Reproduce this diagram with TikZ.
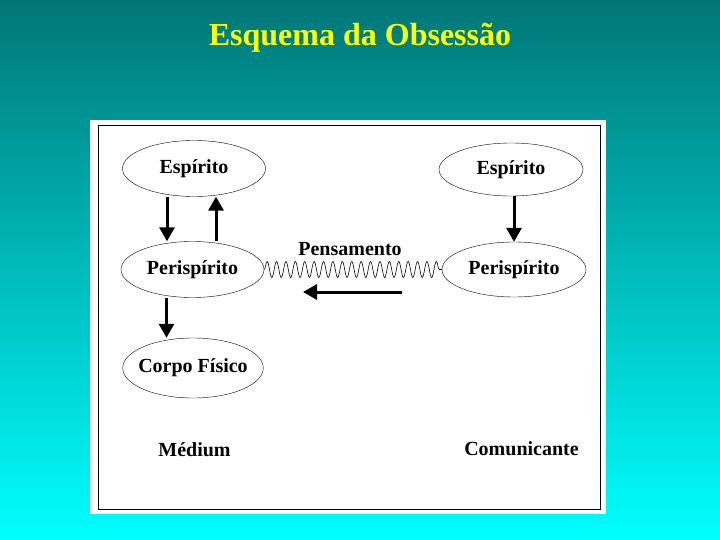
\documentclass[tikz,border=0pt]{standalone}
\usepackage{fontspec}
\setmainfont{Liberation Serif}
\usetikzlibrary{shapes.geometric,arrows.meta,decorations.pathmorphing}
\definecolor{bgtop}{RGB}{0, 118, 118}
\definecolor{bgbottom}{RGB}{0, 255, 255}
\definecolor{titleyellow}{RGB}{255, 255, 0}

\tikzset{
  bubble/.style={draw, ellipse, thin, inner sep=0pt, minimum width=143pt, minimum height=56pt,
    font=\fontsize{20}{24}\selectfont\bfseries},
  tag/.style={font=\fontsize{20}{24}\selectfont\bfseries},
  flow/.style={line width=3pt, -{Triangle[length=14pt,width=15pt]}},
}

\begin{document}
\begin{tikzpicture}[x=1pt,y=-1pt]
% Background
\shade[top color=bgtop, bottom color=bgbottom] (0,0) rectangle (720,540);
\useasboundingbox (0,0) rectangle (720,540);
\node[text=titleyellow, font=\fontsize{32}{36}\selectfont\bfseries] (title) at (360,38) {Esquema da Obsessão};

% Panel
\fill[white] (90,120) rectangle (606,514);
\draw[thick] (98,125) rectangle (600,509);

% Medium side
\node[bubble] (espM) at (194,168.5) {Espírito};
\node[bubble] (periM) at (192.5,269.5) {Perispírito};
\node[bubble, inner xsep=-5pt, minimum width=140pt, minimum height=60pt] (corpo) at (193,368) {Corpo Físico};
\node[tag] (medium) at (194.5,450) {Médium};

% Comunicante side
\node[bubble, minimum width=144pt, minimum height=53pt] (espC) at (511,169.5) {Espírito};
\node[bubble, minimum width=144pt, minimum height=55pt] (periC) at (514,269.5) {Perispírito};
\node[tag] (comunic) at (521.5,449) {Comunicante};

% Arrows
\draw[flow] ([xshift=-27pt]espM.south) -- ([xshift=-27pt]espM.south |- periM.north);
\draw[flow] ([xshift=22pt]espM.south |- periM.north) -- ([xshift=22pt]espM.south);
\draw[flow] ([xshift=-26pt]periM.south) -- ([xshift=-26pt]periM.south |- corpo.north);
\draw[flow] (periC.north |- espC.south) -- (periC.north);

% Thought wave
\draw[semithick, decorate, decoration={snake, segment length=9.4pt, amplitude=8pt}] (periM.east) -- (periC.west);
\node[tag] (pens) at (350,249) {Pensamento};
\coordinate (waveR) at (402,292);
\coordinate (waveL) at (303,292);
\draw[flow] (waveR) -- (waveL);
\end{tikzpicture}
\end{document}
